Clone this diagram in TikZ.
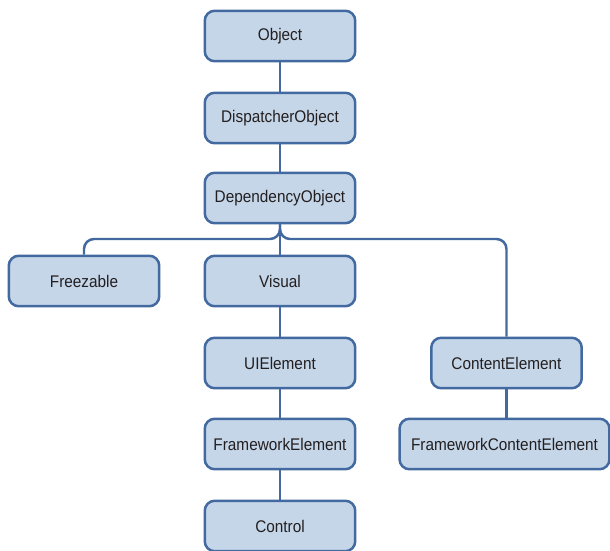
\documentclass[tikz,border=0pt]{standalone}
\usepackage{fontspec}
\newfontfamily\boxfont{Liberation Sans}[FakeStretch=0.91]
\usepackage{tikz}
\usetikzlibrary{positioning}

\definecolor{boxfill}{RGB}{197,214,233}
\definecolor{boxline}{RGB}{67,106,160}
\definecolor{boxtext}{RGB}{35,31,32}

\begin{document}
\begin{tikzpicture}[x=0.02cm,y=-0.02cm,
        classbox/.style={draw=boxline,fill=boxfill,line width=0.05cm,rounded corners=0.2cm,
            minimum width=3.01cm,minimum height=1.01cm,inner sep=0pt,
            text=boxtext,font=\boxfont\fontsize{9.6}{11}\selectfont},
        link/.style={draw=boxline,line width=0.05cm,rounded corners=0.2cm}]
        \useasboundingbox (0,0) rectangle (610,551);
        \node[classbox] (object) at (280,36) {Object};
        \node[classbox] (dispatcher) at (280,118) {DispatcherObject};
        \node[classbox] (dependency) at (280,198) {DependencyObject};
        \node[classbox] (freezable) at (84,281) {Freezable};
        \node[classbox] (visual) at (280,281) {Visual};
        \node[classbox] (uielement) at (280,363) {UIElement};
        \node[classbox] (fwelement) at (280,444) {FrameworkElement};
        \node[classbox] (control) at (280,526) {Control};
        \node[classbox] (content) at (506.5,363) {ContentElement};
        \node[classbox,minimum width=4.2cm] (fwcontent) at (504.5,444) {FrameworkContentElement};
        \coordinate (split) at (280,239);
        \path[link] (object) -- (dispatcher);
        \path[link] (dispatcher) -- (dependency);
        \path[link] (dependency) -- (visual);
        \path[link] (dependency.south) -- (split) -| (freezable.north);
        \path[link] (dependency.south) -- (split) -| (content.north);
        \path[link] (visual) -- (uielement);
        \path[link] (uielement) -- (fwelement);
        \path[link] (fwelement) -- (control);
        \path[link] (content.south) -- (content.south |- fwcontent.north);
    \end{tikzpicture}
\end{document}
